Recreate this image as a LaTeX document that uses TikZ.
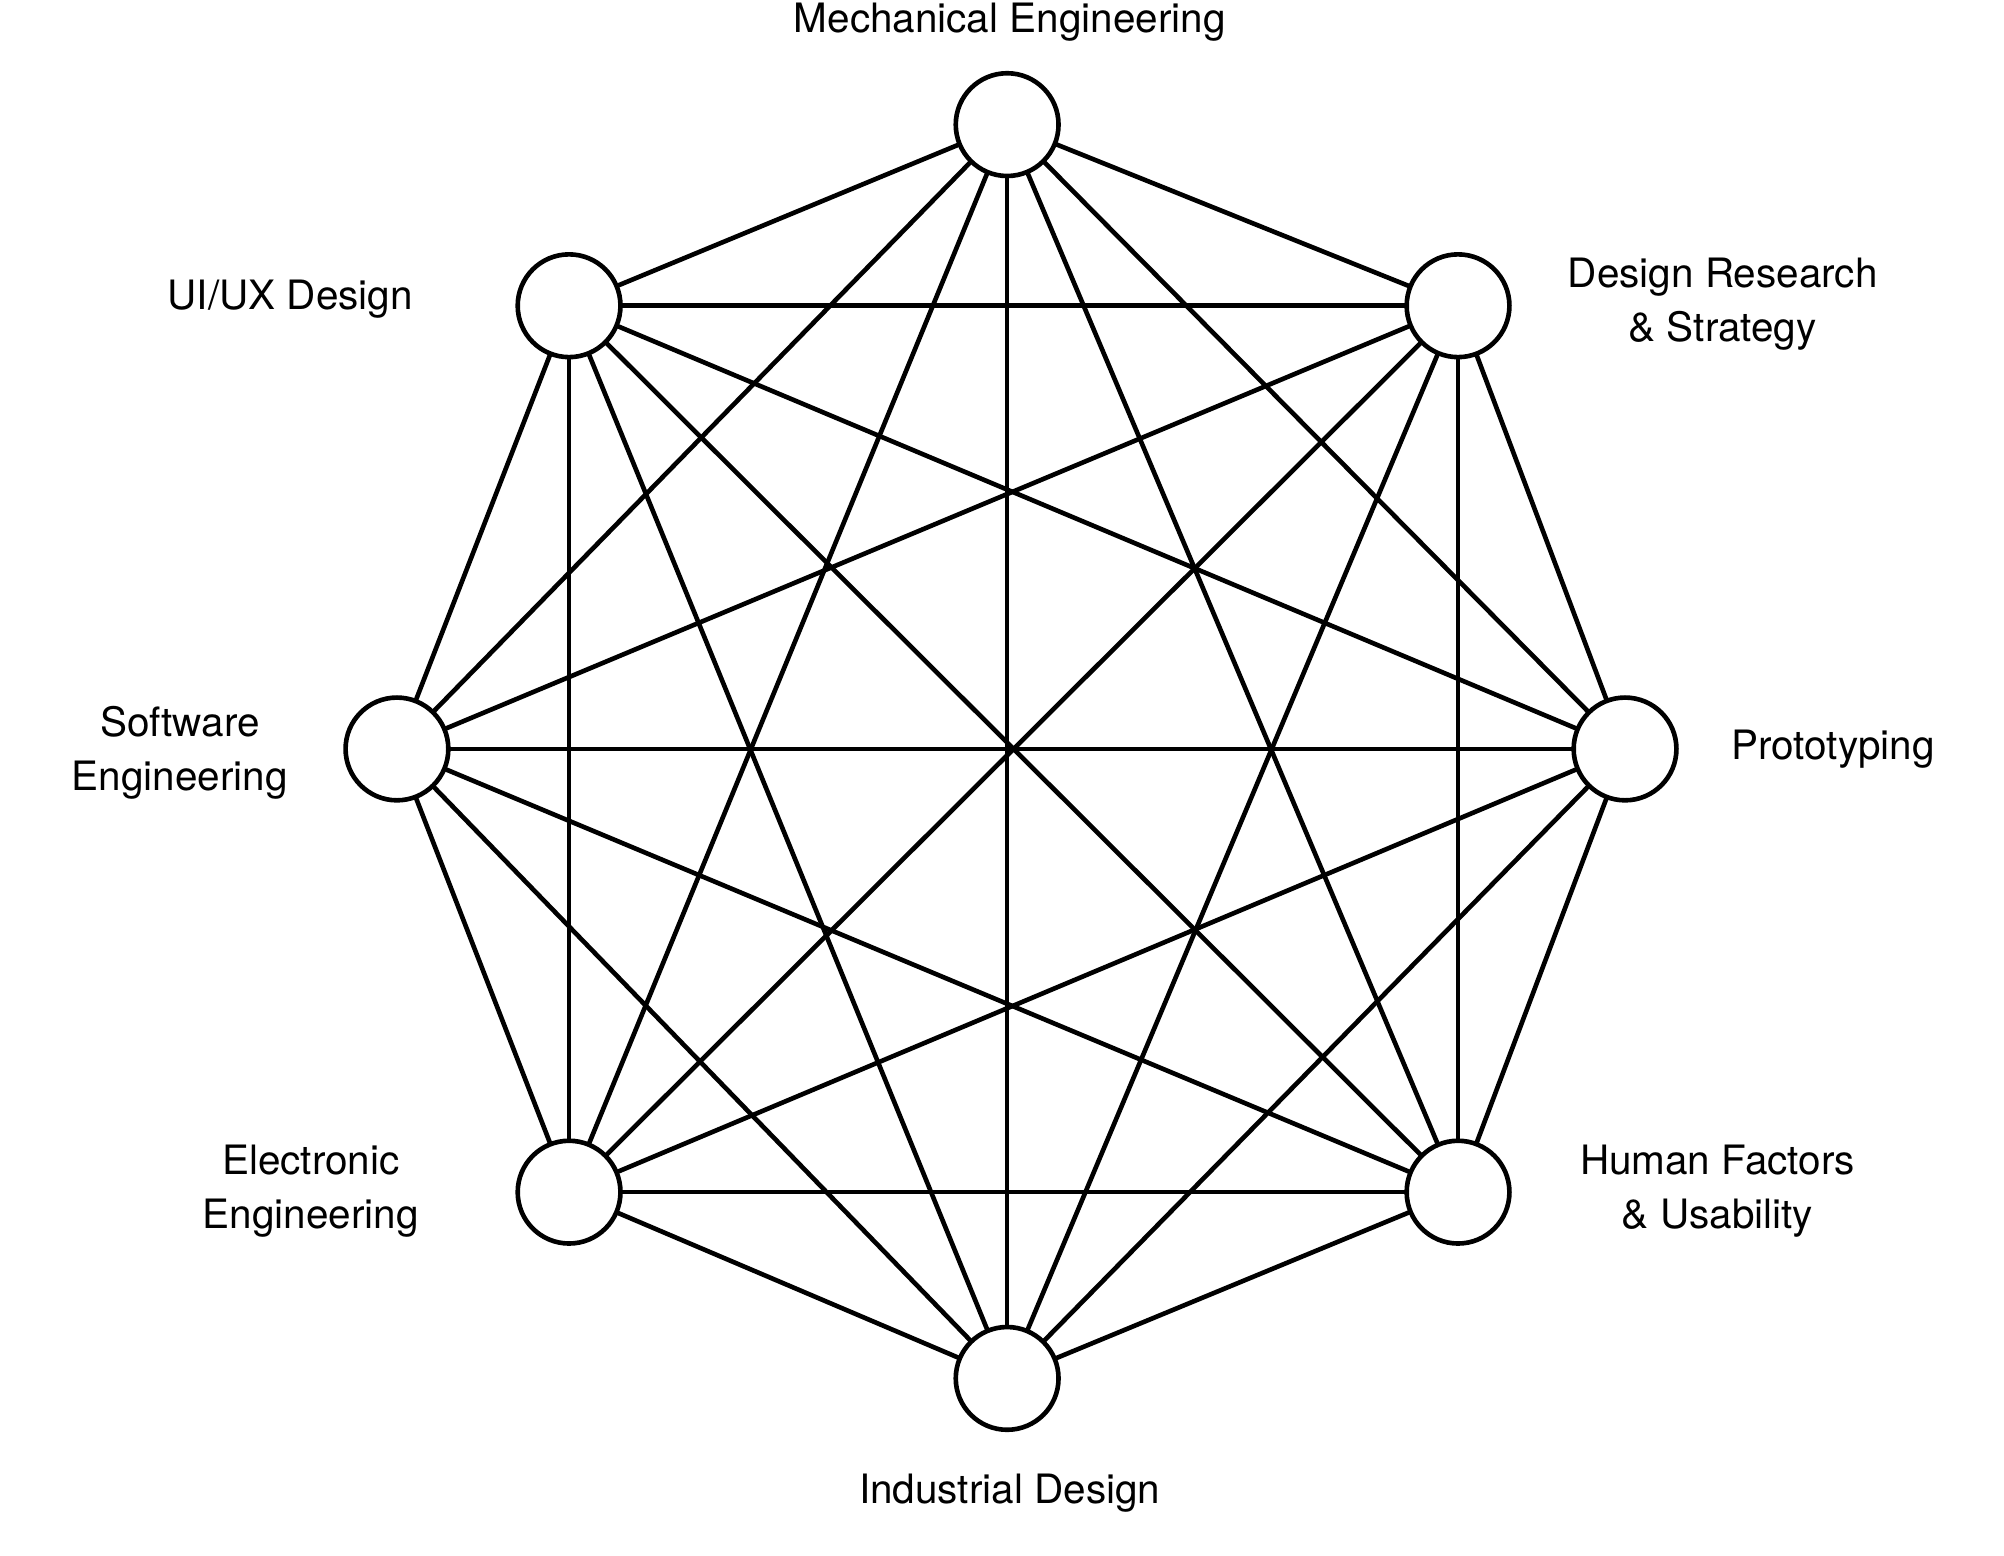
\documentclass[tikz,border=0pt]{standalone}
\usepackage{fontspec}
\setmainfont{TeX Gyre Heros}
\begin{document}
\begin{tikzpicture}[x=1pt,y=-1pt,
  nd/.style={circle,draw,line width=3.6pt,fill=white,minimum size=80pt,inner sep=0pt},
  lbl/.style={font=\fontsize{31.5}{42}\selectfont,align=center},
  edge/.style={line width=3.6pt}]
\fill[white] (0,0) rectangle (1560,1211);
\useasboundingbox (0,0) rectangle (1560,1211);
\coordinate (pa) at (784,97);
\coordinate (pb) at (1135,238);
\coordinate (pc) at (1265,583);
\coordinate (pd) at (1135,928);
\coordinate (pe) at (784,1073);
\coordinate (pf) at (443,928);
\coordinate (pg) at (309,583);
\coordinate (ph) at (443,238);
\foreach \i/\j in {a/b,a/c,a/d,a/e,a/f,a/g,a/h,b/c,b/d,b/e,b/f,b/g,b/h,c/d,c/e,c/f,c/g,c/h,d/e,d/f,d/g,d/h,e/f,e/g,e/h,f/g,f/h,g/h}
  \draw[edge] (p\i) -- (p\j);
\foreach \n in {a,b,c,d,e,f,g,h} \node[nd] (\n) at (p\n) {};
\node[lbl] (la) at (786,17) {Mechanical Engineering};
\node[lbl] (lb) at (1341,237) {Design Research\\\& Strategy};
\node[lbl] (lc) at (1427,583) {Prototyping};
\node[lbl] (ld) at (1337,927) {Human Factors\\\& Usability};
\node[lbl] (le) at (786,1162) {Industrial Design};
\node[lbl] (lf) at (242,927) {Electronic\\Engineering};
\node[lbl] (lg) at (140,586) {Software\\Engineering};
\node[lbl] (lh) at (226,233) {UI/UX Design};
\end{tikzpicture}
\end{document}
